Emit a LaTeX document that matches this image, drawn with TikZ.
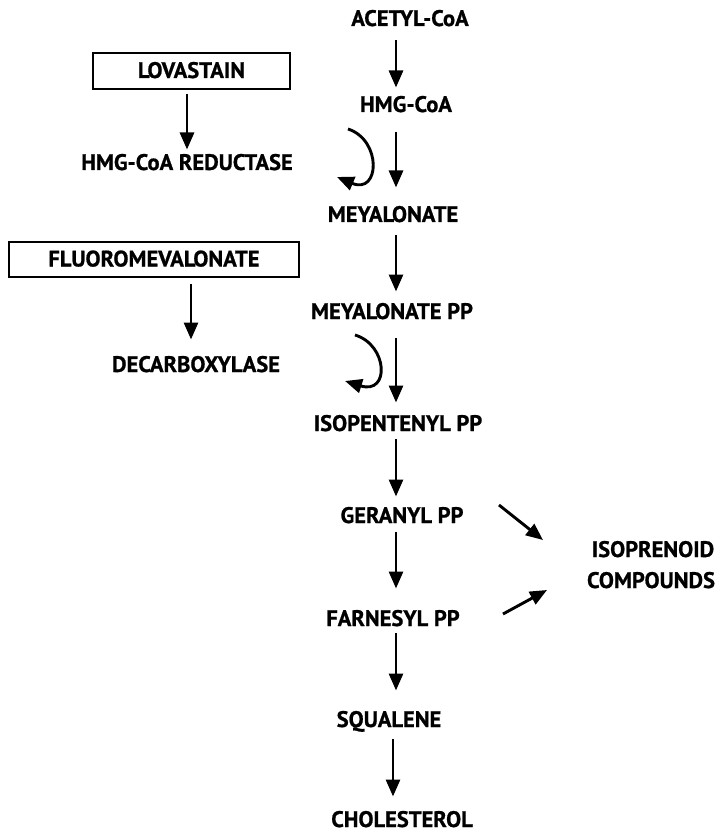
\documentclass[tikz,border=0pt]{standalone}
\usepackage{fontspec}
\setmainfont{PT Sans}[BoldFeatures={FakeBold=0.8}]
\usetikzlibrary{arrows.meta}
\begin{document}
\begin{tikzpicture}[x=1pt,y=-1pt,
  lbl/.style={inner sep=0pt, outer sep=0pt, anchor=base, text height=14pt, text depth=0pt,
    font=\fontsize{22.5}{26}\selectfont\bfseries},
  boxed/.style={draw, line width=2.4pt, inner sep=0pt, text height=14pt, text depth=0pt,
    font=\fontsize{22.5}{26}\selectfont\bfseries},
  arr/.style={line width=2.9pt, -{Triangle[length=17pt,width=14pt]}},
  gap/.style 2 args={shorten <=#1, shorten >=#2}]
\useasboundingbox (0,0) rectangle (716,834);
% spine coordinates
\coordinate (sp) at (396,0);
\coordinate (sq) at (393,0);
% main chain
\node[lbl] (acetyl) at (410,26) {ACETYL-CoA};
\node[lbl] (hmg) at (406,112) {HMG-CoA};
\node[lbl] (mey) at (393,222) {MEYALONATE};
\node[lbl] (meypp) at (392,319) {MEYALONATE PP};
\node[lbl] (isopent) at (398,431) {ISOPENTENYL PP};
\node[lbl] (ger) at (402,523) {GERANYL PP};
\node[lbl] (farn) at (393,626) {FARNESYL PP};
\node[lbl] (squal) at (389,727) {SQUALENE};
\node[lbl] (chol) at (402,827) {CHOLESTEROL};
% side
\node[boxed, minimum width=197pt, minimum height=36pt] (lova) at (191.5,71) {LOVASTAIN};
\node[lbl] (red) at (187,170) {HMG-CoA REDUCTASE};
\node[boxed, minimum width=290pt, minimum height=35pt] (fluoro) at (154,259.5) {FLUOROMEVALONATE};
\node[lbl] (decarb) at (196,372) {DECARBOXYLASE};
\node[lbl] (isopr) at (653,557) {ISOPRENOID};
\node[lbl] (comp) at (651,588) {COMPOUNDS};
% main arrows
\draw[arr, gap={14pt}{10.5pt}] (acetyl.south -| sp) -- (hmg.north -| sp);
\draw[arr, gap={20pt}{20.5pt}] (hmg.south -| sp) -- (mey.north -| sp);
\draw[arr, gap={13pt}{13.5pt}] (mey.south -| sp) -- (meypp.north -| sp);
\draw[arr, gap={19pt}{14.5pt}] (meypp.south -| sp) -- (isopent.north -| sp);
\draw[arr, gap={8pt}{12.5pt}] (isopent.south -| sp) -- (ger.north -| sp);
\draw[arr, gap={9pt}{23.5pt}] (ger.south -| sp) -- (farn.north -| sp);
\draw[arr, gap={7pt}{22.5pt}] (farn.south -| sp) -- (squal.north -| sp);
\draw[arr, gap={12pt}{16.5pt}] (squal.south -| sq) -- (chol.north -| sq);
% inhibitor arrows
\coordinate (lx) at (187,0);
\coordinate (fx) at (191,0);
\draw[arr, gap={4pt}{6.5pt}] (lova.south -| lx) -- (red.north -| lx);
\draw[arr, gap={6pt}{18.5pt}] (fluoro.south -| fx) -- (decarb.north -| fx);
% curved arrows
\draw[arr] (348,129) .. controls (382,140) and (380,195) .. (337,177);
\draw[arr] (355,335) .. controls (388,345) and (390,395) .. (345,381);
% to isoprenoid compounds
\coordinate (g1) at (499,505);
\coordinate (g2) at (543,540);
\coordinate (f1) at (503,614);
\coordinate (f2) at (547,590);
\draw[arr] (g1) -- (g2);
\draw[arr] (f1) -- (f2);
\end{tikzpicture}
\end{document}
